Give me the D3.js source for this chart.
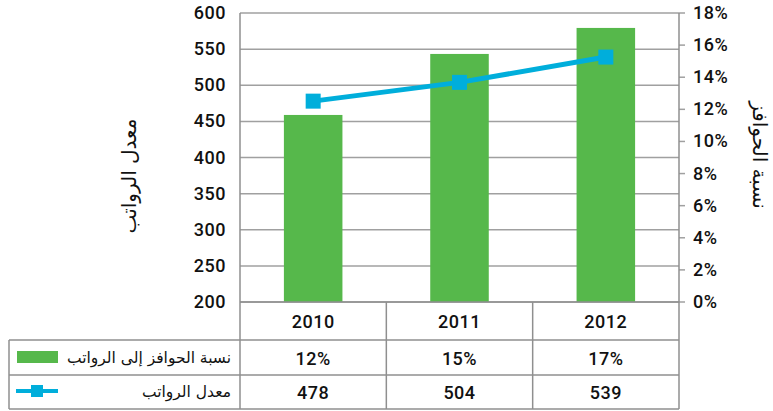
<!DOCTYPE html>
<html>
<head>
<meta charset="utf-8">
<script src="https://cdn.jsdelivr.net/npm/d3@7"></script>
<style>
  body { margin: 0; background: #fff; }
  svg { display: block; }
  .num { font-family: Roboto, "DejaVu Sans", sans-serif; font-weight: 500; font-size: 18px; letter-spacing: 0.5px; fill: #111; }
  .ar { font-family: "DejaVu Sans", "Noto Sans", sans-serif; fill: #111; }
</style>
</head>
<body>
<svg id="chart" width="773" height="411"></svg>
<script>
// data
let years = ["2010", "2011", "2012"];
let ratio = [11.65, 15.45, 17.07];      // bars, right axis (%)
let ratioLabels = ["12%", "15%", "17%"];
let salary = [478, 504, 539];           // line, left axis
let leftTicks = [200, 250, 300, 350, 400, 450, 500, 550, 600];
let rightTicks = [0, 2, 4, 6, 8, 10, 12, 14, 16, 18];
let barName = "نسبة الحوافز إلى الرواتب";
let lineName = "معدل الرواتب";
let rightTitle = "نسبة الحوافز";

let colors = { bar: "#56b84b", line: "#00aedb", grid: "#a0a0a0", border: "#8f8f8f" };

let plot = { left: 240, right: 679, top: 13, bottom: 302 };
let rows = [302, 340, 375, 409];
let tableLeft = 9;

let svg = d3.select("#chart");

let x = d3.scaleBand().domain(years).range([plot.left, plot.right]);
let yLeft = d3.scaleLinear().domain([200, 600]).range([plot.bottom, plot.top]);
let yRight = d3.scaleLinear().domain([0, 18]).range([plot.bottom, plot.top]);

// gridlines
svg.append("g")
    .selectAll("line")
    .data(leftTicks)
    .enter()
    .append("line")
    .attr("x1", plot.left)
    .attr("x2", plot.right)
    .attr("y1", (d) => yLeft(d))
    .attr("y2", (d) => yLeft(d))
    .attr("stroke", colors.grid)
    .attr("stroke-width", 1.5);

// left axis labels
svg.append("g")
    .selectAll("text")
    .data(leftTicks)
    .enter()
    .append("text")
    .attr("class", "num")
    .attr("x", 226)
    .attr("y", (d) => yLeft(d) + 6)
    .attr("text-anchor", "end")
    .text((d) => d);

// right axis ticks + labels
let right = svg.append("g");
right.selectAll("line")
    .data(rightTicks)
    .enter()
    .append("line")
    .attr("x1", plot.right)
    .attr("x2", plot.right + 6)
    .attr("y1", (d) => yRight(d))
    .attr("y2", (d) => yRight(d))
    .attr("stroke", colors.grid)
    .attr("stroke-width", 1.5);
right.selectAll("text")
    .data(rightTicks)
    .enter()
    .append("text")
    .attr("class", "num")
    .attr("x", 693)
    .attr("y", (d) => yRight(d) + 6)
    .text((d) => d + "%");

// bars
let barW = x.bandwidth() * 0.4;
svg.append("g")
    .selectAll("rect")
    .data(ratio)
    .enter()
    .append("rect")
    .attr("x", (d, i) => x(years[i]) + (x.bandwidth() - barW) / 2)
    .attr("y", (d) => yRight(d))
    .attr("width", barW)
    .attr("height", (d) => yRight(0) - yRight(d))
    .attr("fill", colors.bar);

// table and axis frame
let frame = svg.append("g")
    .attr("stroke", colors.border)
    .attr("stroke-width", 1.5)
    .attr("fill", "none");
frame.append("line").attr("x1", plot.left).attr("x2", plot.left).attr("y1", plot.top).attr("y2", rows[3]);
frame.append("line").attr("x1", plot.right).attr("x2", plot.right).attr("y1", plot.top).attr("y2", rows[3]);
years.forEach((y, i) => {
    if (i > 0) {
        frame.append("line").attr("x1", x(y)).attr("x2", x(y)).attr("y1", plot.bottom).attr("y2", rows[3]);
    }
});
frame.append("line").attr("x1", plot.left).attr("x2", plot.right).attr("y1", rows[0]).attr("y2", rows[0]);
[rows[1], rows[2], rows[3]].forEach((r) => {
    frame.append("line").attr("x1", tableLeft).attr("x2", plot.right).attr("y1", r).attr("y2", r);
});
frame.append("line").attr("x1", tableLeft).attr("x2", tableLeft).attr("y1", rows[1]).attr("y2", rows[3]);

// line series
let line = d3.line()
    .x((d, i) => x(years[i]) + x.bandwidth() / 2)
    .y((d) => yLeft(d));
svg.append("path")
    .datum(salary)
    .attr("d", line)
    .attr("fill", "none")
    .attr("stroke", colors.line)
    .attr("stroke-width", 5);
svg.append("g")
    .selectAll("rect")
    .data(salary)
    .enter()
    .append("rect")
    .attr("x", (d, i) => x(years[i]) + x.bandwidth() / 2 - 7.5)
    .attr("y", (d) => yLeft(d) - 7.5)
    .attr("width", 15)
    .attr("height", 15)
    .attr("fill", colors.line);

// table text
let cells = [
    { vals: years, y: (rows[0] + rows[1]) / 2 + 7 },
    { vals: ratioLabels, y: (rows[1] + rows[2]) / 2 + 7 },
    { vals: salary, y: (rows[2] + rows[3]) / 2 + 7 },
];
cells.forEach((row) => {
    svg.append("g")
        .selectAll("text")
        .data(row.vals)
        .enter()
        .append("text")
        .attr("class", "num")
        .attr("x", (d, i) => x(years[i]) + x.bandwidth() / 2)
        .attr("y", row.y)
        .attr("text-anchor", "middle")
        .text((d) => d);
});

// legend keys in the table
svg.append("rect")
    .attr("x", 17).attr("y", 351).attr("width", 41).attr("height", 12)
    .attr("fill", colors.bar);
svg.append("line")
    .attr("x1", 16).attr("x2", 58).attr("y1", 391).attr("y2", 391)
    .attr("stroke", colors.line).attr("stroke-width", 4);
svg.append("rect")
    .attr("x", 31).attr("y", 385).attr("width", 12).attr("height", 12)
    .attr("fill", colors.line);
svg.append("text")
    .attr("class", "ar")
    .attr("x", 231).attr("y", 363)
    .attr("text-anchor", "end")
    .attr("font-size", 15.5)
    .text(barName);
svg.append("text")
    .attr("class", "ar")
    .attr("x", 231).attr("y", 397)
    .attr("text-anchor", "end")
    .attr("font-size", 15.5)
    .text(lineName);

// axis titles
svg.append("text")
    .attr("class", "ar")
    .attr("transform", "translate(136,176) rotate(-90)")
    .attr("text-anchor", "middle")
    .attr("font-size", 20)
    .text(lineName);
svg.append("text")
    .attr("class", "ar")
    .attr("transform", "translate(753,155) rotate(90)")
    .attr("text-anchor", "middle")
    .attr("font-size", 20)
    .text(rightTitle);
</script>
</body>
</html>
